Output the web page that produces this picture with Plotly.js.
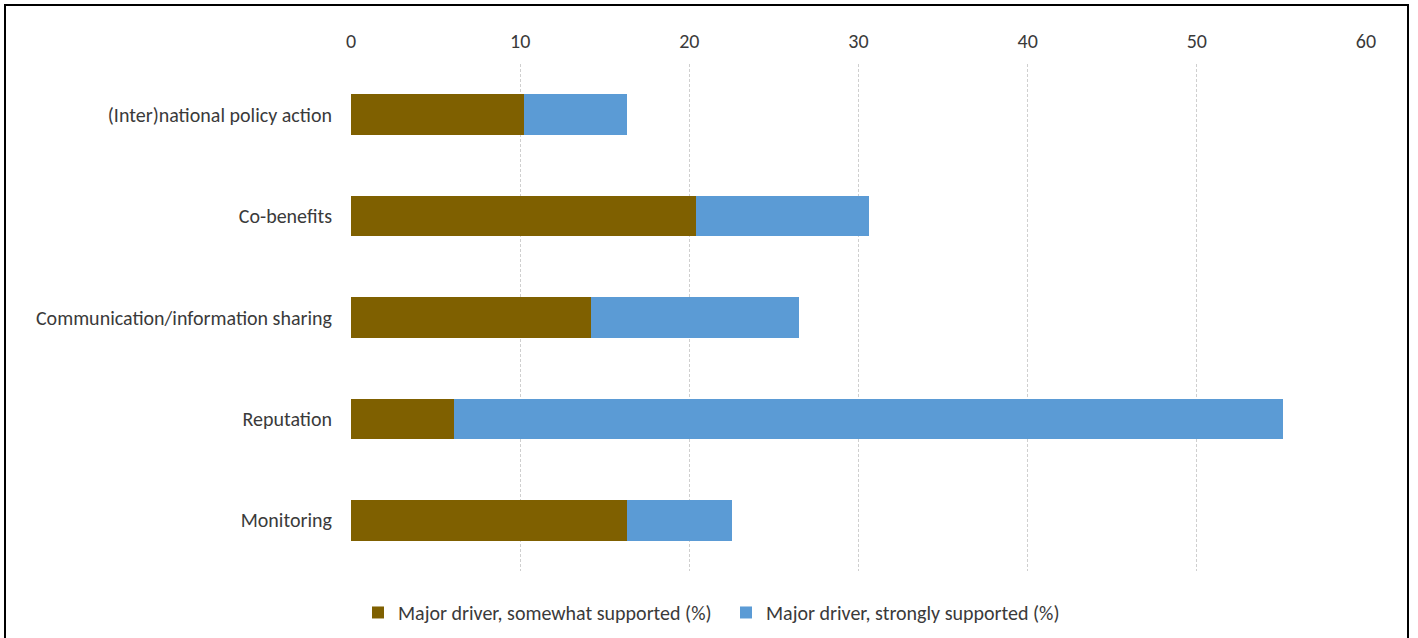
<!DOCTYPE html>
<html>
<head>
<meta charset="utf-8">
<script src="https://cdn.plot.ly/plotly-3.0.1.min.js"></script>
<style>
  html, body { margin: 0; padding: 0; background: #fff; }
  #wrap { position: relative; width: 1418px; height: 638px; overflow: hidden; }
  #chart { position: absolute; left: 0; top: 0; width: 1418px; height: 638px; }
  #frame { position: absolute; left: 4px; top: 4px; width: 1405px; height: 700px;
           border: 2px solid #000; box-sizing: border-box; pointer-events: none; }
</style>
</head>
<body>
<div id="wrap">
  <div id="chart"></div>
  <div id="frame"></div>
</div>
<script>
// Drivers of support, share of respondents (%)
const categories = [
  "(Inter)national policy action",
  "Co-benefits",
  "Communication/information sharing",
  "Reputation",
  "Monitoring"
];
const somewhatSupported = [10.2, 20.4, 14.2, 6.1, 16.3];
const stronglySupported = [6.1, 10.2, 12.3, 49.0, 6.2];
const seriesNames = [
  "Major driver, somewhat supported (%)",
  "Major driver, strongly supported (%)"
];
const xTicks = [0, 10, 20, 30, 40, 50, 60];

const font = "Carlito, Calibri, Lato, sans-serif";
const textColor = "#3a3a3a";

const traces = [
  {
    type: "bar", orientation: "h",
    y: categories, x: somewhatSupported, name: seriesNames[0],
    marker: { color: "#7f6000", line: { width: 0 } },
    width: 0.4, hoverinfo: "x+y"
  },
  {
    type: "bar", orientation: "h",
    y: categories, x: stronglySupported, name: seriesNames[1],
    marker: { color: "#5b9bd5", line: { width: 0 } },
    width: 0.4, hoverinfo: "x+y"
  }
];

const layout = {
  width: 1418, height: 638,
  paper_bgcolor: "#fff", plot_bgcolor: "#fff",
  barmode: "stack",
  margin: { l: 351, r: 52, t: 64, b: 67, pad: 0 },
  font: { family: font, size: 20, color: textColor },
  xaxis: {
    side: "top", range: [0, 60],
    tickvals: xTicks, ticktext: xTicks.map(String),
    showgrid: true, gridcolor: "#cfcfcf", griddash: "3px,2px", gridwidth: 1,
    zeroline: false, showline: false, ticks: "",
    ticklabelstandoff: 11, fixedrange: true
  },
  yaxis: {
    autorange: "reversed", showgrid: false, zeroline: false,
    showline: false, ticks: "", ticklabelstandoff: 18, fixedrange: true
  },
  showlegend: true,
  legend: {
    orientation: "h", xref: "container", yref: "container",
    x: 375 / 1418 - 0.012, xanchor: "left", y: 0.04, yanchor: "middle",
    font: { family: font, size: 20, color: textColor },
    traceorder: "normal", itemwidth: 30, entrywidth: 323
  }
};

Plotly.newPlot("chart", traces, layout, { displayModeBar: false, staticPlot: true });
</script>
</body>
</html>
